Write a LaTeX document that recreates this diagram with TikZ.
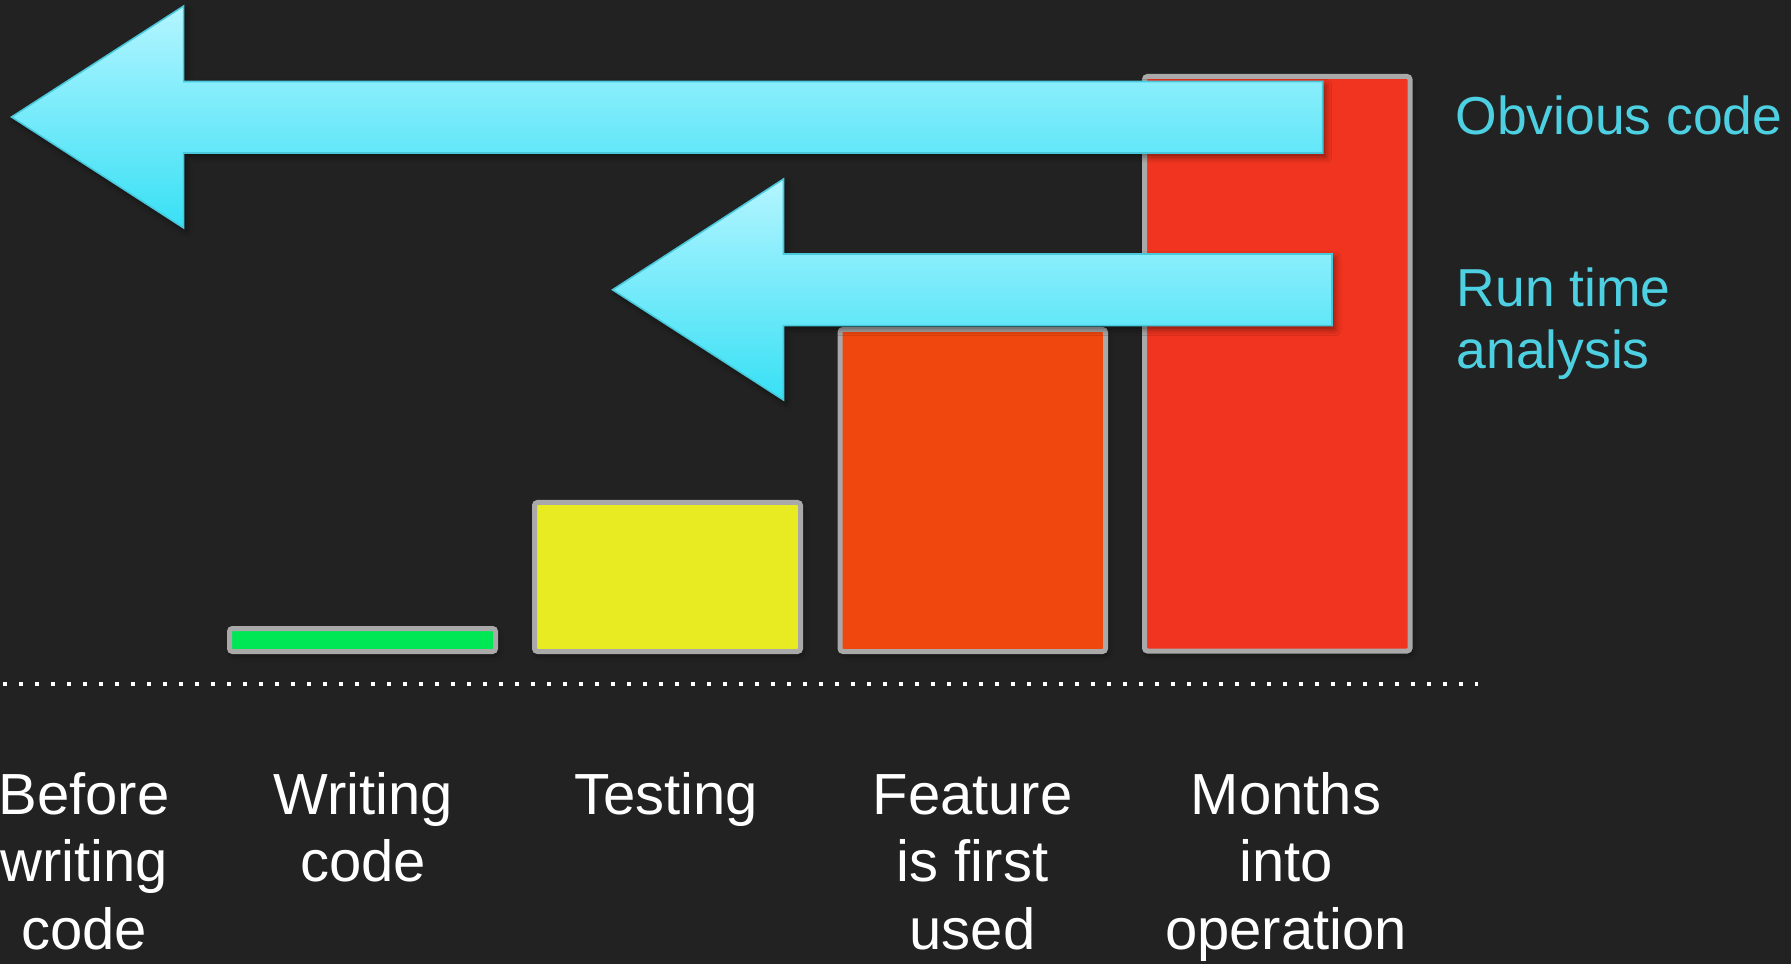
\documentclass[tikz,border=0pt]{standalone}
\usepackage{fontspec}
\setmainfont{Liberation Sans}
\usetikzlibrary{shadows.blur}

\definecolor{slideBg}{HTML}{222222}
\definecolor{barEdge}{HTML}{A9A9A9}
\definecolor{barGreen}{HTML}{00E756}
\definecolor{barYellow}{HTML}{E8EA22}
\definecolor{barOrange}{HTML}{F0470E}
\definecolor{barRed}{HTML}{F0341F}
\definecolor{arrowTop}{HTML}{B4F5FF}
\definecolor{arrowBottom}{HTML}{38E0F5}
\definecolor{arrowEdge}{HTML}{48C8DA}
\definecolor{remarkCyan}{HTML}{4DD0E1}

\tikzset{
	bar/.style={line width=0.05cm, draw=barEdge, rounded corners=0.03cm,
		blur shadow={shadow xshift=0.02cm, shadow yshift=-0.04cm, shadow blur radius=0.06cm, shadow opacity=40}},
	flow/.style={draw=arrowEdge, line width=0.45pt, top color=arrowTop, bottom color=arrowBottom,
		blur shadow={shadow xshift=0.03cm, shadow yshift=-0.04cm, shadow blur radius=0.06cm, shadow opacity=45}},
	stage/.style={text=white, align=center, inner sep=0pt, anchor=base,
		font=\fontsize{16.5}{19.2}\selectfont},
	remark/.style={text=remarkCyan, align=left, inner sep=0pt, anchor=base west,
		font=\fontsize{15.2}{17.5}\selectfont}
}

\begin{document}
\begin{tikzpicture}
		%%%%% START %%%%%
		
		\fill[slideBg] (0, 0) rectangle (17.91, 9.64);
		\useasboundingbox (0, 0) rectangle (17.91, 9.64);
		
		% bars
		\draw[bar, fill=barGreen] (2.295, 3.125) rectangle (4.955, 3.355);
		\draw[bar, fill=barYellow] (5.345, 3.125) rectangle (8.005, 4.615);
		\draw[bar, fill=barOrange] (8.400, 3.125) rectangle (11.055, 6.345);
		\draw[bar, fill=barRed] (11.445, 3.130) rectangle (14.100, 8.875);
		
		% baseline
		\draw[white, line width=0.035cm, dash pattern=on 0.035cm off 0.125cm] (0.03, 2.80) -- (14.78, 2.80);
		
		% arrows
		\draw[flow] (0.115, 8.47) -- (1.837, 9.58) -- (1.837, 8.825) -- (13.227, 8.825)
			-- (13.227, 8.11) -- (1.837, 8.11) -- (1.837, 7.36) -- cycle;
		\draw[flow] (6.125, 6.742) -- (7.835, 7.85) -- (7.835, 7.10) -- (13.32, 7.10)
			-- (13.32, 6.383) -- (7.835, 6.383) -- (7.835, 5.64) -- cycle;
		
		% labels (base = last line)
		\node[remark] (obvious) at (14.55, 8.29) {Obvious code};
		\node[remark] (runtime) at (14.56, 5.957) {Run time\\analysis};
		
		\node[stage] (before) at (0.84, 0.15) {Before\\writing\\code};
		\node[stage] (writing) at (3.63, 0.825) {Writing\\code};
		\node[stage] (testing) at (6.66, 1.50) {Testing};
		\node[stage] (feature) at (9.725, 0.15) {Feature\\is first\\used};
		\node[stage] (months) at (12.86, 0.15) {Months\\into\\operation};
		
		%%%%% END %%%%%
\end{tikzpicture}
\end{document}
